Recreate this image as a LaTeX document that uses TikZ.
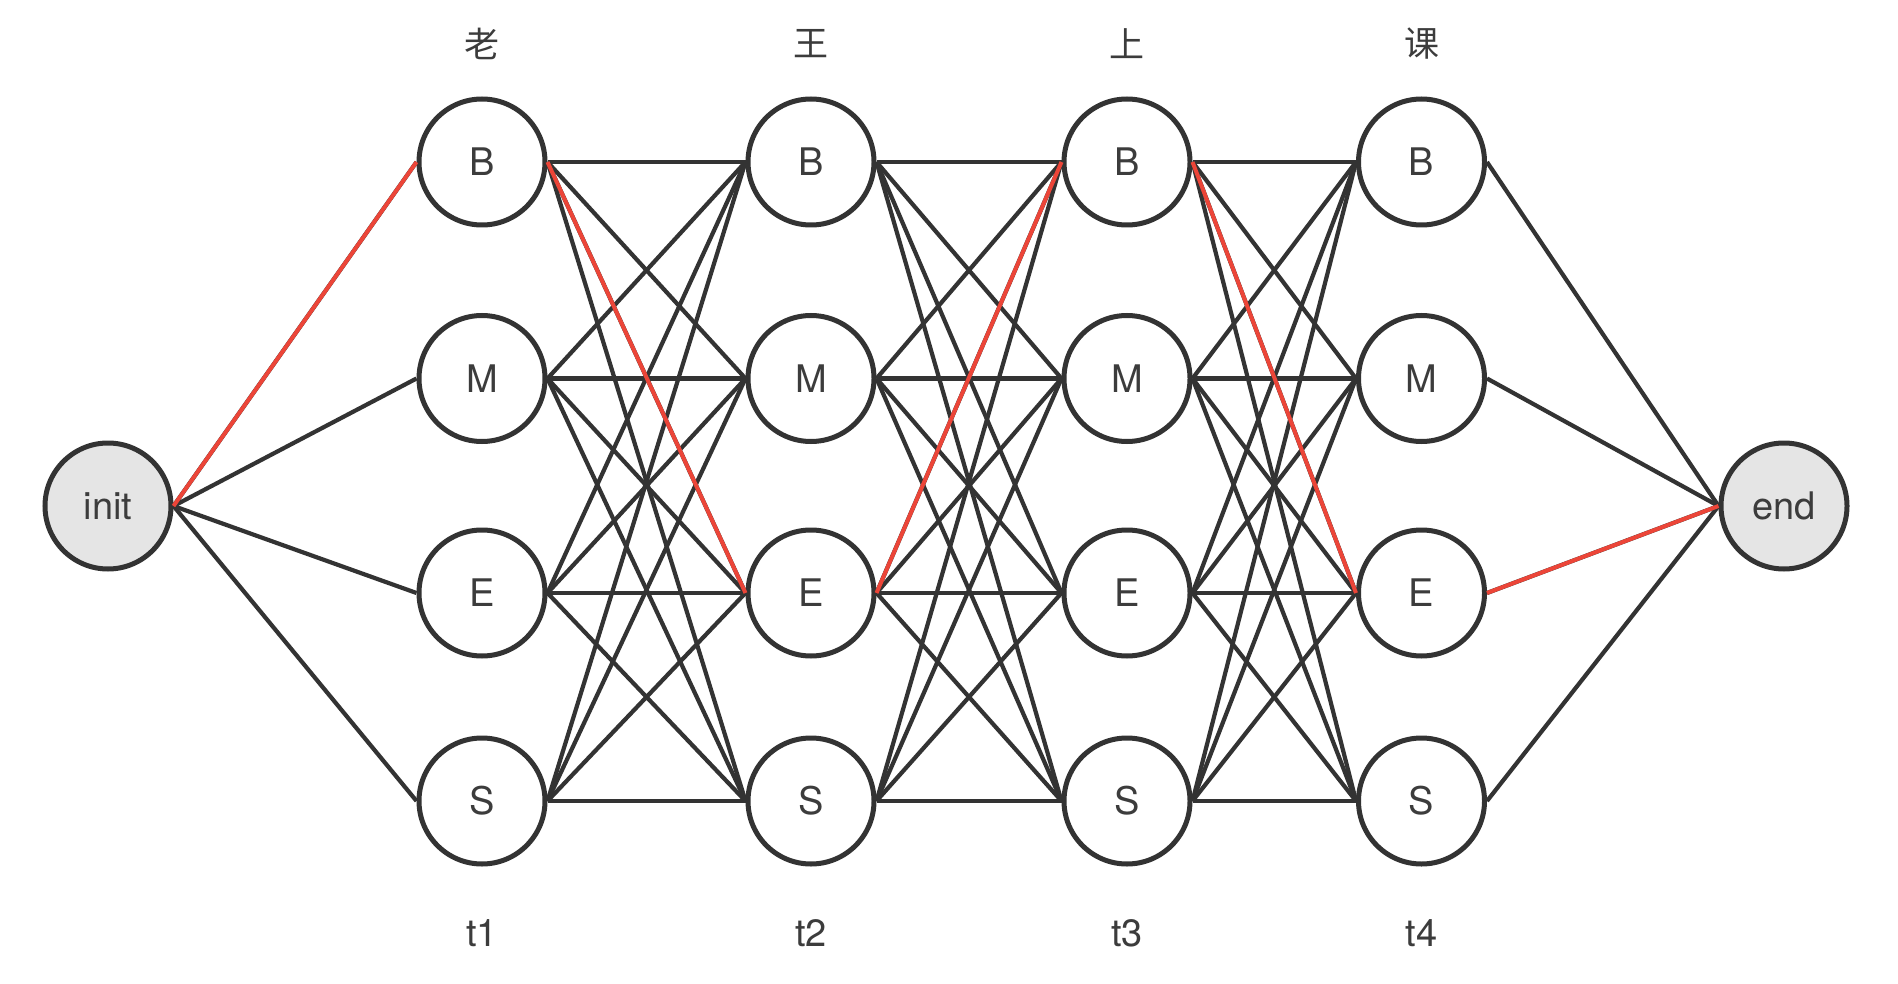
\documentclass[tikz,border=0pt]{standalone}
\usepackage{fontspec}
\setmainfont{TeX Gyre Heros}
\newfontfamily\cjk{Noto Sans CJK SC}
\definecolor{ink}{HTML}{333333}
\definecolor{txt}{HTML}{3C3C3C}
\definecolor{hl}{HTML}{EC4538}
\definecolor{gfill}{HTML}{E5E5E5}
\begin{document}
\begin{tikzpicture}[x=1pt,y=-1pt,
  state/.style={circle,draw=ink,line width=5pt,fill=white,minimum size=126pt,inner sep=0pt,text=txt,font=\fontsize{38}{42}\selectfont},
  term/.style={state,fill=gfill},
  edge/.style={draw=ink,line width=4.2pt},
  hledge/.style={draw=hl,line width=4pt},
  lbl/.style={text=txt,font=\fontsize{38}{42}\selectfont,inner sep=0pt},
  clbl/.style={text=txt,font=\cjk\fontsize{35}{38}\selectfont,inner sep=0pt}]
\useasboundingbox[fill=white] (0,0) rectangle (1898,984);
% columns
\foreach \c/\x/\ch/\t in {1/482/老/t1,2/811/王/t2,3/1127/上/t3,4/1421.5/课/t4}{
  \foreach \r/\y in {B/162,M/378.5,E/593,S/801}{
    \node[state] (n\c\r) at (\x,\y) {\r};
  }
  \node[clbl] (ch\c) at (\x,44) {\ch};
  \node[lbl] (t\c) at (\x,933) {\t};
}
\node[term] (init) at (108,506) {init};
\node[term] (end) at (1784,506) {end};
% black edges
\foreach \r in {B,M,E,S}{
  \draw[edge] (init.east) -- (n1\r.west);
  \draw[edge] (n4\r.east) -- (end.west);
}
\foreach \c/\n in {1/2,2/3,3/4}{
  \foreach \a in {B,M,E,S}{
    \foreach \b in {B,M,E,S}{
      \draw[edge] (n\c\a.east) -- (n\n\b.west);
    }
  }
}
% highlighted path
\draw[hledge] (init.east) -- (n1B.west);
\draw[hledge] (n1B.east) -- (n2E.west);
\draw[hledge] (n2E.east) -- (n3B.west);
\draw[hledge] (n3B.east) -- (n4E.west);
\draw[hledge] (n4E.east) -- (end.west);
\end{tikzpicture}
\end{document}
